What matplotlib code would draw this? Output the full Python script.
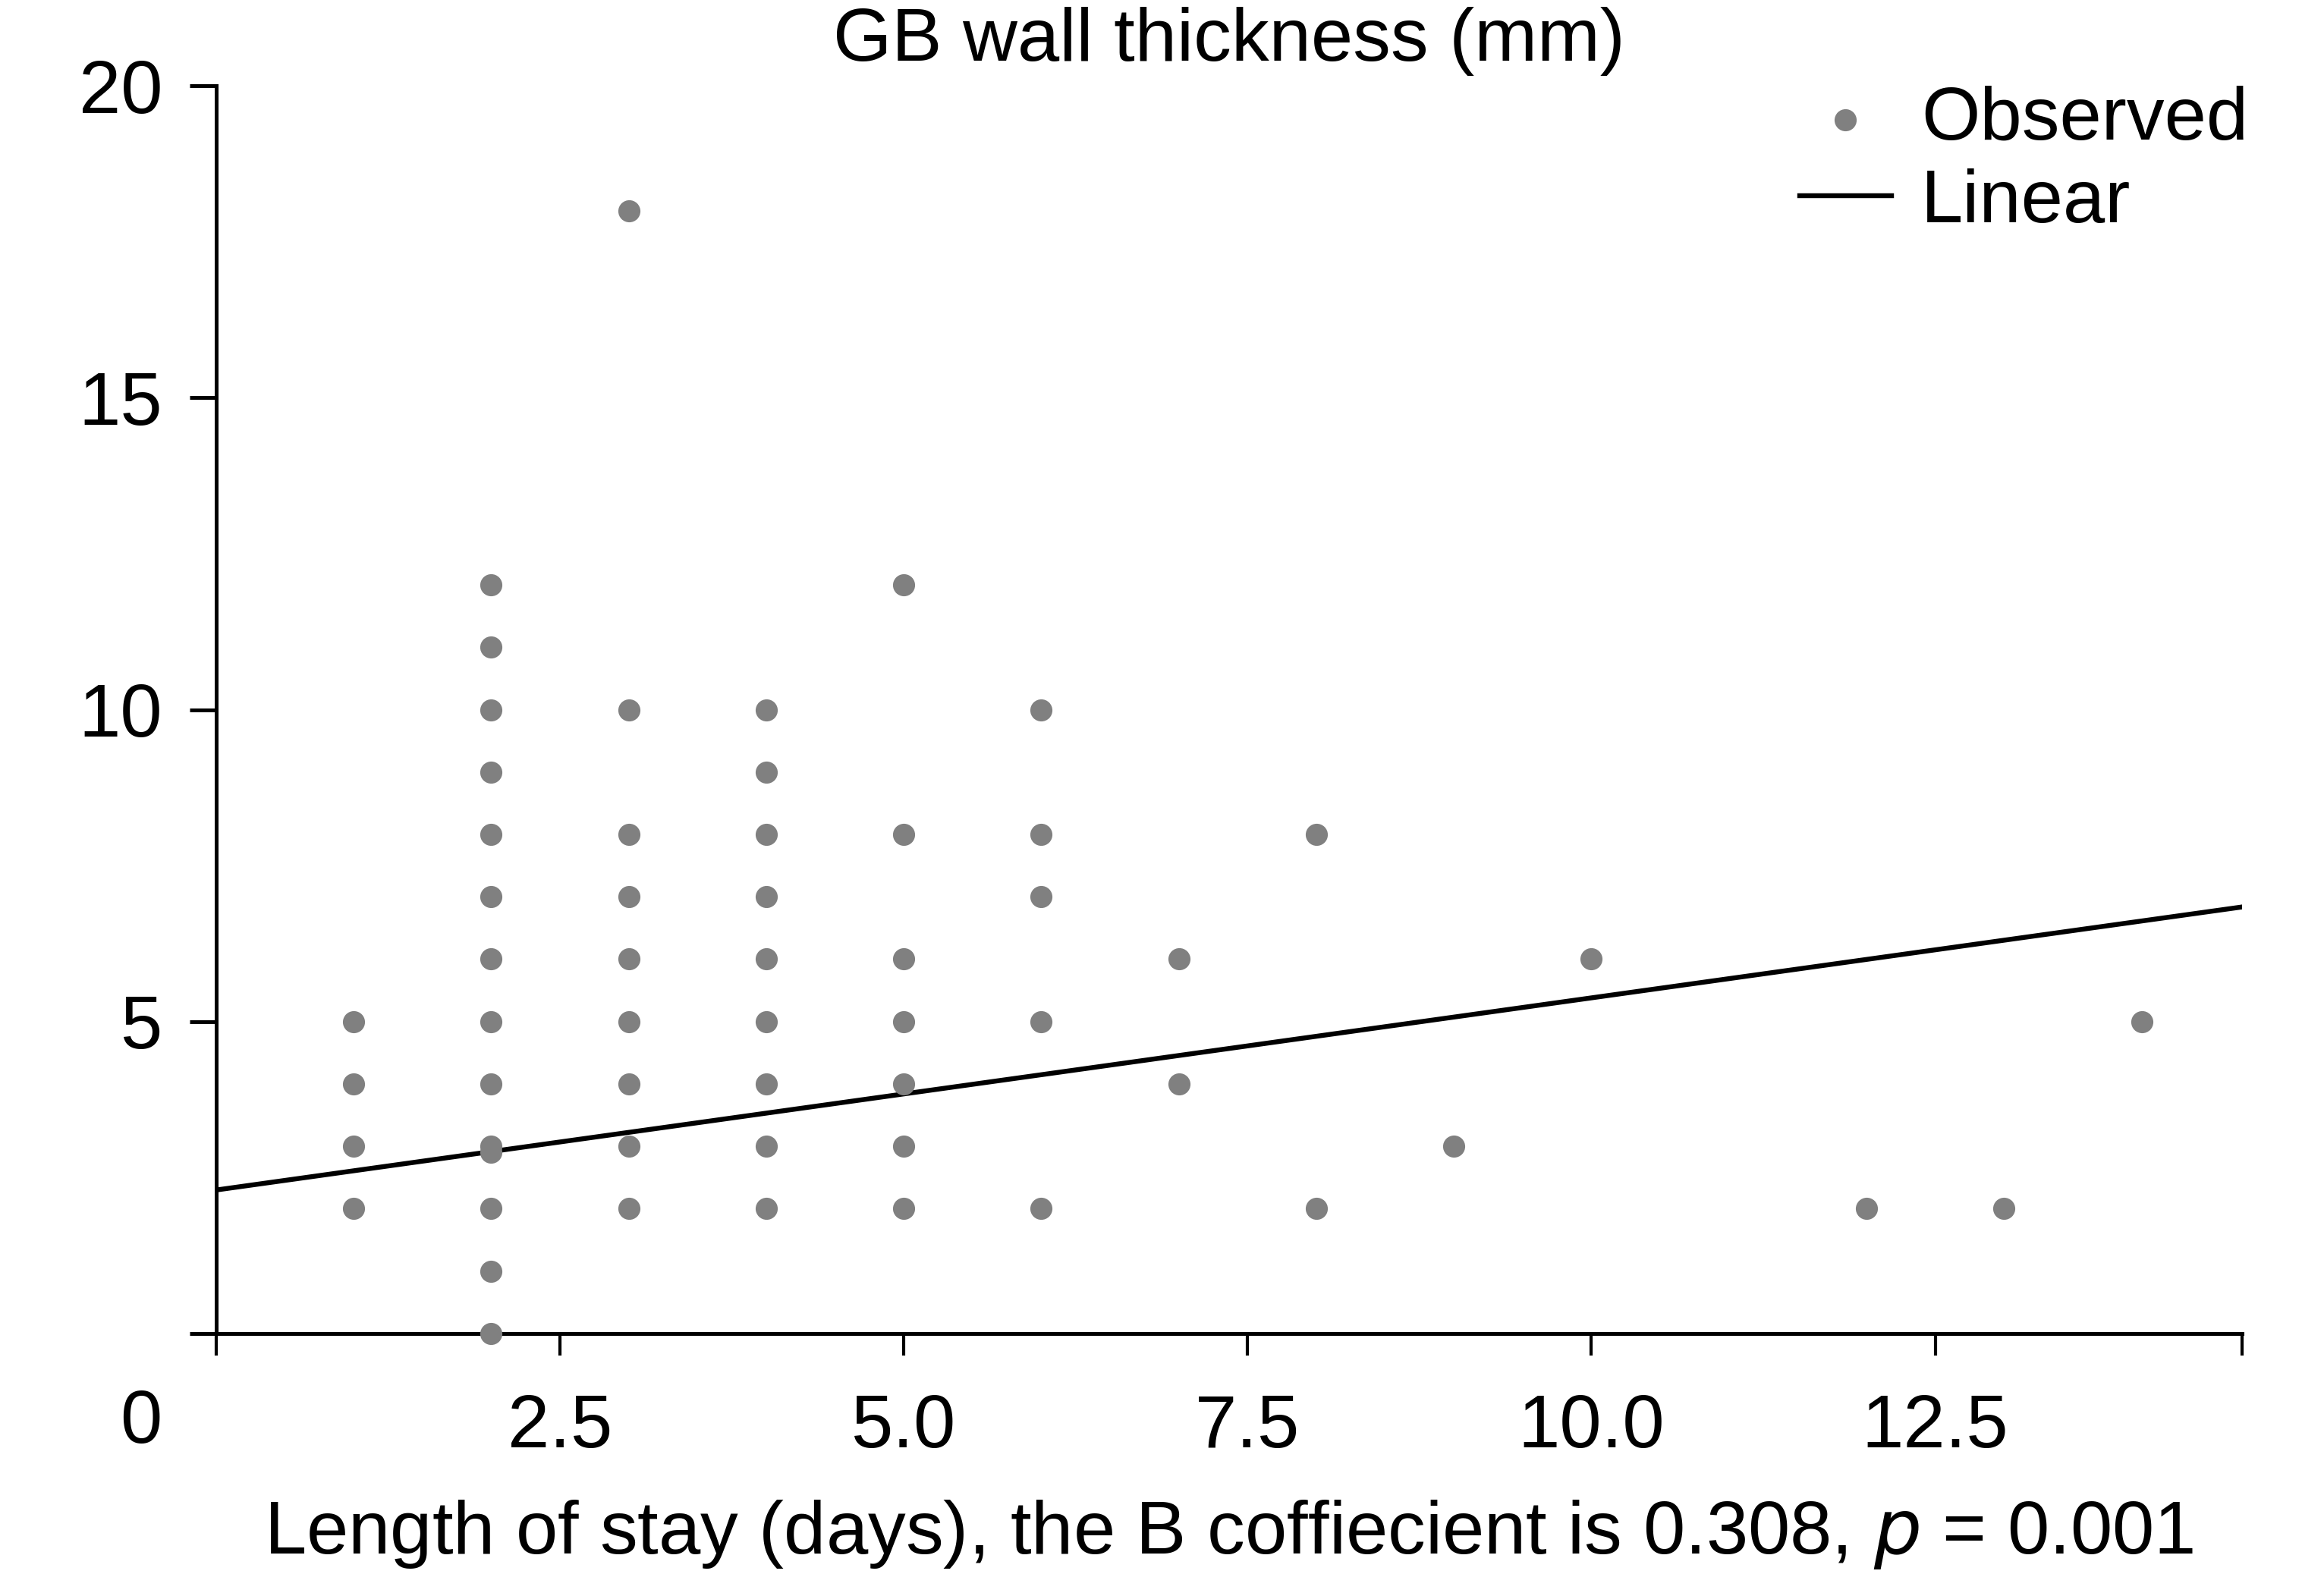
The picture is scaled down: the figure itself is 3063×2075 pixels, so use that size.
import numpy as np
from matplotlib import pyplot as plt

# observed points, grouped by length of stay (days)
stay_days = [1, 1, 1, 1,
             2, 2, 2, 2, 2, 2, 2, 2, 2, 2, 2, 2, 2, 2,
             3, 3, 3, 3, 3, 3, 3, 3, 3,
             4, 4, 4, 4, 4, 4, 4, 4, 4,
             5, 5, 5, 5, 5, 5, 5,
             6, 6, 6, 6, 6,
             7, 7,
             8, 8,
             9, 10, 12, 13, 14]
wall_mm = [2, 3, 4, 5,
           0, 1, 2, 2.9, 3, 4, 5, 6, 7, 8, 9, 10, 11, 12,
           2, 3, 4, 5, 6, 7, 8, 10, 18,
           2, 3, 4, 5, 6, 7, 8, 9, 10,
           2, 3, 4, 5, 6, 8, 12,
           2, 5, 7, 8, 10,
           4, 6,
           2, 8,
           3, 6, 2, 2, 5]

# linear fit
intercept = 2.3
slope = 0.308

x_ticks = [0, 2.5, 5.0, 7.5, 10.0, 12.5]
x_ticklabels = ['', '2.5', '5.0', '7.5', '10.0', '12.5']
y_ticks = [0, 5, 10, 15, 20]
y_ticklabels = ['', '5', '10', '15', '20']
x_max = 14.73


def main():
    plt.rcParams['font.family'] = ['Liberation Sans', 'DejaVu Sans']
    fs = 35.8
    fig = plt.figure(figsize=(15.315, 10.375), dpi=200)
    ax = fig.add_axes([0.093, 0.1528, 0.8717, 0.7927])

    ax.scatter(stay_days, wall_mm, s=110, color='#808080', linewidths=0,
               label='Observed', zorder=3, clip_on=False)
    xs = np.array([0, x_max])
    ax.plot(xs, intercept + slope * xs, color='black', lw=2.3,
            label='Linear', zorder=2)

    ax.set_xlim(0, x_max)
    ax.set_ylim(0, 20)
    ax.spines['top'].set_visible(False)
    ax.spines['right'].set_visible(False)
    for s in ['left', 'bottom']:
        ax.spines[s].set_linewidth(1.8)

    ax.set_xticks(x_ticks + [x_max])
    ax.set_xticklabels(x_ticklabels + [''])
    ax.set_yticks(y_ticks)
    ax.set_yticklabels(y_ticklabels)
    ax.tick_params(axis='x', length=10.5, width=1.5, pad=18, labelsize=fs)
    ax.tick_params(axis='y', length=12.5, width=1.8, pad=13, labelsize=fs)
    ax.text(-0.037, -0.072, '0', transform=ax.transAxes, fontsize=fs,
            ha='center', va='center')

    ax.set_title('GB wall thickness (mm)', fontsize=fs, pad=12)
    ax.set_xlabel('Length of stay (days), the B coffiecient is 0.308, $\\it{p}$ = 0.001',
                  fontsize=fs, labelpad=17)

    ax.legend(loc='upper right', bbox_to_anchor=(1.003, 1.0), frameon=False,
              fontsize=fs, handlelength=1.22, handletextpad=0.39,
              labelspacing=0.18, markerscale=1.0, borderaxespad=0,
              borderpad=0)

    fig.savefig('out.png', dpi=200)


if __name__ == '__main__':
    main()
